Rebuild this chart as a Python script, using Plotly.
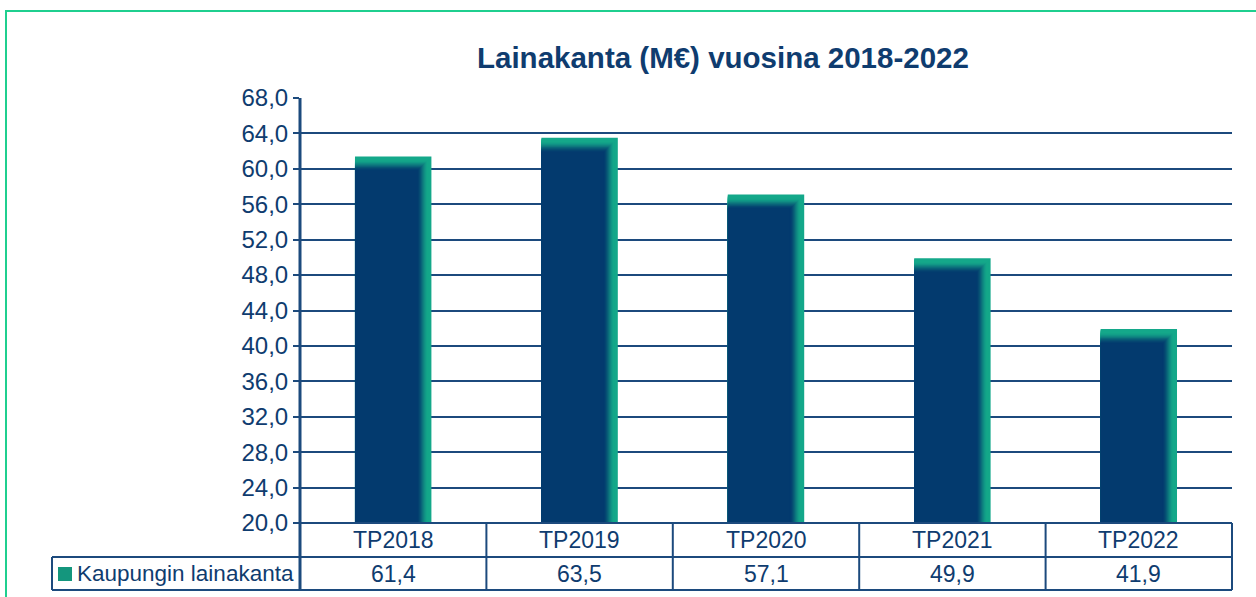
import plotly.graph_objects as go

categories = ["TP2018", "TP2019", "TP2020", "TP2021", "TP2022"]
values = [61.4, 63.5, 57.1, 49.9, 41.9]
series_name = "Kaupungin lainakanta"
title_text = "Lainakanta (M€) vuosina 2018-2022"
y_ticks = [20, 24, 28, 32, 36, 40, 44, 48, 52, 56, 60, 64, 68]

TEXT = "#0f3c6f"
GRID = "#1c4a7d"
GREEN = (20, 168, 138)
NAVYRGB = (3, 58, 110)

W, H = 1256, 597
ML, MR, MT, MB = 300, 24, 98, 7
pw, ph = W - ML - MR, H - MT - MB

def py(ypix):
    return (H - MB - ypix) / ph

def px(xpix):
    return (xpix - ML) / pw

y_dom0 = py(523)
row_mid = py(557)

n = len(categories)
xs = list(range(n))
bw = 0.41
ymin, ymax = 20, 68
xunit = n / pw
yunit = (ymax - ymin) / (ph * (1 - y_dom0))

fig = go.Figure()
N = 16
for k in range(N):
    t = k / (N - 1)
    s = min(1, max(0, (t - 0.2) / 0.8))
    s = s * s * (3 - 2 * s)
    c = tuple(round(GREEN[i] + (NAVYRGB[i] - GREEN[i]) * s) for i in range(3))
    col = "rgb(%d,%d,%d)" % c
    fig.add_trace(go.Bar(
        x=xs, y=[v - k * 0.95 * yunit for v in values],
        width=bw - k * 0.95 * xunit, offset=-bw / 2,
        marker=dict(color=col, line=dict(width=0)),
        showlegend=False, hoverinfo="skip"))

fig.update_layout(
    width=W, height=H, barmode="overlay",
    margin=dict(l=ML, r=MR, t=MT, b=MB, autoexpand=False),
    plot_bgcolor="white", paper_bgcolor="white",
    separators=", ",
    font=dict(family="Liberation Sans, Arial", size=23, color=TEXT),
    xaxis=dict(range=[-0.5, n - 0.5], showticklabels=False, showgrid=False,
               zeroline=False, ticks="", automargin=False),
    yaxis=dict(range=[ymin, ymax], domain=[y_dom0, 1], tickvals=y_ticks,
               tickformat=".1f", showgrid=True, gridcolor=GRID, gridwidth=2,
               zeroline=False, ticks="outside", ticklen=6, tickcolor=GRID,
               tickwidth=2, showline=False, automargin=False,
               tickfont=dict(size=24, color=TEXT)),
    showlegend=False,
)

shapes = []
lw = dict(color=GRID, width=2)
shapes.append(dict(type="rect", xref="paper", yref="paper", x0=px(6), x1=px(1270),
                   y0=py(620), y1=py(11), line=dict(color="#1fcf8f", width=2)))
shapes.append(dict(type="line", xref="paper", yref="paper", x0=0, x1=1, y0=y_dom0, y1=y_dom0, line=lw))
for yy in [row_mid, 0]:
    shapes.append(dict(type="line", xref="paper", yref="paper", x0=px(52), x1=1, y0=yy, y1=yy, line=lw))
shapes.append(dict(type="line", xref="paper", yref="paper", x0=0, x1=0, y0=0, y1=1, line=dict(color=GRID, width=3)))
shapes.append(dict(type="line", xref="paper", yref="paper", x0=px(52), x1=px(52), y0=0, y1=row_mid, line=lw))
for i in range(1, n + 1):
    xx = i / n
    shapes.append(dict(type="line", xref="paper", yref="paper", x0=xx, x1=xx, y0=0, y1=y_dom0, line=lw))
shapes.append(dict(type="rect", xref="paper", yref="paper", x0=px(58), x1=px(72),
                   y0=py(581), y1=py(567), line=dict(width=0), fillcolor="rgb(20,150,125)"))
fig.update_layout(shapes=shapes)

ann = []
row1_mid = (y_dom0 + row_mid) / 2
row2_mid = row_mid / 2
for i, (c, v) in enumerate(zip(categories, values)):
    ann.append(dict(x=i, xref="x", y=row1_mid, yref="paper", text=c, showarrow=False,
                    xanchor="center", yanchor="middle", font=dict(size=23, color=TEXT)))
    ann.append(dict(x=i, xref="x", y=row2_mid, yref="paper",
                    text=("%.1f" % v).replace(".", ","), showarrow=False,
                    xanchor="center", yanchor="middle", font=dict(size=23, color=TEXT)))
ann.append(dict(x=px(75), xref="paper", y=row2_mid, yref="paper", text=series_name,
                xanchor="left", yanchor="middle", showarrow=False, font=dict(size=22.5, color=TEXT)))
ann.append(dict(x=px(723), xref="paper", y=py(57), yref="paper", text="<b>%s</b>" % title_text,
                xanchor="center", yanchor="middle", showarrow=False, font=dict(size=29.5, color=TEXT)))
fig.update_layout(annotations=ann)

fig.write_html("out.html", config={"displayModeBar": False},
               post_script="document.body.style.margin='0px';")
